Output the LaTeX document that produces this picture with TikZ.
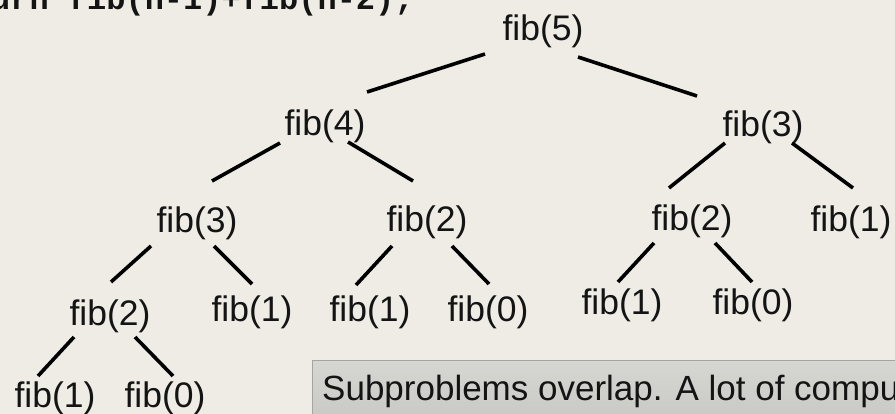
\documentclass[tikz,border=0pt]{standalone}
\usepackage{fontspec}
\setmainfont{Liberation Sans}
\newfontfamily\codefont{Liberation Mono}
\definecolor{bgc}{RGB}{238,236,229}
\definecolor{boxtop}{RGB}{214,214,210}
\definecolor{boxbot}{RGB}{198,198,194}
\definecolor{boxline}{RGB}{165,165,160}
\definecolor{txt}{RGB}{20,20,20}
\tikzset{
  fibnode/.style={inner sep=0pt, outer sep=0pt, text=txt, font=\fontsize{35.5}{40}\selectfont},
  edge/.style={line width=3.6pt, black},
}
\begin{document}
\begin{tikzpicture}[x=1pt,y=-1pt]
\useasboundingbox (0,0) rectangle (895,414);
\clip (0,0) rectangle (895,414);
\fill[bgc] (0,0) rectangle (895,414);
% code line (cut at top)
\node[anchor=base west, inner sep=0pt, text=txt, font=\codefont\bfseries\fontsize{32}{36}\selectfont] (code) at (-9,10) {urn fib(n-1)+fib(n-2);};
% tree nodes
\node[fibnode] (f5)  at (543,31)  {fib(5)};
\node[fibnode] (f4)  at (325,126) {fib(4)};
\node[fibnode] (f3r) at (763,127) {fib(3)};
\node[fibnode] (f3l) at (197,223) {fib(3)};
\node[fibnode] (f2m) at (427,222) {fib(2)};
\node[fibnode] (f2r) at (692,221) {fib(2)};
\node[fibnode] (f1r) at (851,222) {fib(1)};
\node[fibnode] (f2l) at (110,316) {fib(2)};
\node[fibnode] (f1a) at (252,312) {fib(1)};
\node[fibnode] (f1b) at (370,312) {fib(1)};
\node[fibnode] (f0a) at (488,312) {fib(0)};
\node[fibnode] (f1c) at (622,305) {fib(1)};
\node[fibnode] (f0c) at (753,305) {fib(0)};
\node[fibnode] (f1d) at (55,398)  {fib(1)};
\node[fibnode] (f0d) at (165,398) {fib(0)};
% edges
\draw[edge] ([shift={(-58,23)}]f5.center) -- ([shift={(42,-34)}]f4.center);
\draw[edge] ([shift={(35,26)}]f5.center) -- ([shift={(-66,-31)}]f3r.center);
\draw[edge] ([shift={(-45,17)}]f4.center) -- ([shift={(15,-42)}]f3l.center);
\draw[edge] ([shift={(23,16)}]f4.center) -- ([shift={(-14,-41)}]f2m.center);
\draw[edge] ([shift={(-46,23)}]f3l.center) -- ([shift={(1,-34)}]f2l.center);
\draw[edge] ([shift={(17,23)}]f3l.center) -- ([shift={(0,-28)}]f1a.center);
\draw[edge] ([shift={(-35,24)}]f2m.center) -- ([shift={(-14,-27)}]f1b.center);
\draw[edge] ([shift={(25,24)}]f2m.center) -- ([shift={(1,-28)}]f0a.center);
\draw[edge] ([shift={(-38,16)}]f3r.center) -- ([shift={(-23,-33)}]f2r.center);
\draw[edge] ([shift={(29,16)}]f3r.center) -- ([shift={(2,-34)}]f1r.center);
\draw[edge] ([shift={(-38,22)}]f2r.center) -- ([shift={(-4,-23)}]f1c.center);
\draw[edge] ([shift={(23,22)}]f2r.center) -- ([shift={(-1,-23)}]f0c.center);
\draw[edge] ([shift={(-36,21)}]f2l.center) -- ([shift={(-17,-22)}]f1d.center);
\draw[edge] ([shift={(25,21)}]f2l.center) -- ([shift={(8,-22)}]f0d.center);
% note box
\shade[top color=boxtop, bottom color=boxbot, draw=boxline, line width=1pt] (312.5,360.5) rectangle (910,430);
\node[anchor=base west, inner sep=0pt, text=txt, font=\fontsize{35}{40}\selectfont] (note) at (322,400) {Subproblems overlap. A lot of compu};
\end{tikzpicture}
\end{document}
